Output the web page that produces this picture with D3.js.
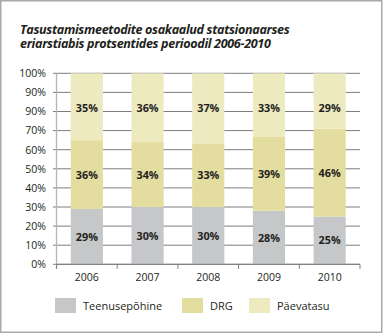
<!DOCTYPE html>
<html><head><meta charset="utf-8">
<script src="https://cdn.jsdelivr.net/npm/d3@7"></script>
<style>body{margin:0;background:#fff;}svg{display:block;}</style>
</head><body>
<svg id="c" width="384" height="335"></svg>
<script>
const years = ["2006","2007","2008","2009","2010"];
const teenusepohine = [29,30,30,28,25];
const drg = [36,34,33,39,46];
const paevatasu = [35,36,37,33,29];
const seriesNames = ["Teenusepõhine","DRG","Päevatasu"];
const colors = ["#c5c7c9","#e4dda0","#eeeac0"];
const tickValues = [0,10,20,30,40,50,60,70,80,90,100];
const tickLabels = ["0%","10%","20%","30%","40%","50%","60%","70%","90%","90%","100%"];
const titleLines = ["Tasustamismeetodite osakaalud statsionaarses","eriarstiabis protsentides perioodil 2006-2010"];

const svg = d3.select("#c");
const font = "'Open Sans', sans-serif";
svg.append("rect").attr("x",0.75).attr("y",0.75).attr("width",381).attr("height",331.5)
  .attr("fill","#fff").attr("stroke","#a9a9a9").attr("stroke-width",1.5);

const title = svg.append("text")
  .attr("font-family",font).attr("font-style","italic").attr("font-weight","bold")
  .attr("font-size",12.6).attr("fill","#231f20").attr("letter-spacing",-0.35);
title.selectAll("tspan").data(titleLines).join("tspan")
  .attr("x",20).attr("y",(d,i)=>33.5+i*14.5).text(d=>d);

const x0=56.5, x1=360, yTop=73.3, yBot=264.3;
const x = d3.scaleBand().domain(years).range([x0,x1]).paddingInner(0.47).paddingOuter(0.235);
const y = d3.scaleLinear().domain([0,100]).range([yBot,yTop]);

// grid
const grid = svg.append("g");
grid.selectAll("line").data(tickValues).join("line")
  .attr("x1",53).attr("x2",x1).attr("y1",d=>y(d)).attr("y2",d=>y(d))
  .attr("stroke","#7d7d7d").attr("stroke-width",1);
svg.append("line").attr("x1",x0).attr("x2",x0).attr("y1",yTop).attr("y2",yBot+4)
  .attr("stroke","#b5b5b5").attr("stroke-width",1.3);

// y labels
svg.append("g").selectAll("text").data(tickValues).join("text")
  .attr("x",46).attr("y",d=>y(d)+3.8).attr("text-anchor","end")
  .attr("font-family",font).attr("font-size",10.5).attr("fill","#231f20")
  .text((d,i)=>tickLabels[i]);

// stacked bars
const rows = years.map((yr,i)=>({year:yr, v:[teenusepohine[i],drg[i],paevatasu[i]]}));
const stack = d3.stack().keys([0,1,2]).value((d,k)=>d.v[k]);
const layers = stack(rows);
layers.forEach((layer,k)=>{
  const g = svg.append("g");
  g.selectAll("rect").data(layer).join("rect")
    .attr("x",d=>x(d.data.year)).attr("width",x.bandwidth())
    .attr("y",d=>y(d[1])).attr("height",d=>y(d[0])-y(d[1]))
    .attr("fill",colors[k]);
  g.selectAll("text").data(layer).join("text")
    .attr("x",d=>x(d.data.year)+x.bandwidth()/2)
    .attr("y",d=>k===2 ? y(82)+4 : (y(d[0])+y(d[1]))/2+4)
    .attr("text-anchor","middle").attr("font-family",font).attr("font-weight","bold")
    .attr("font-size",10.8).attr("fill","#231f20")
    .text(d=>d.data.v[k]+"%");
});

// x axis baseline ticks
svg.append("line").attr("x1",x0).attr("x2",x1).attr("y1",yBot).attr("y2",yBot).attr("stroke","#7d7d7d");
const bounds = years.map((yr)=>x(yr)-x.step()*x.paddingInner()/2);
bounds.push(x1);
svg.append("g").selectAll("line").data(bounds).join("line")
  .attr("x1",d=>d).attr("x2",d=>d).attr("y1",yBot).attr("y2",yBot+4.5)
  .attr("stroke","#7d7d7d");
svg.append("g").selectAll("text").data(years).join("text")
  .attr("x",d=>x(d)+x.bandwidth()/2).attr("y",281)
  .attr("text-anchor","middle").attr("font-family",font).attr("font-size",10.5).attr("fill","#231f20")
  .text(d=>d);

// legend
const legX = [55,182,249];
const lg = svg.append("g");
seriesNames.forEach((n,i)=>{
  lg.append("rect").attr("x",legX[i]).attr("y",298).attr("width",21).attr("height",15).attr("fill",colors[i]);
  lg.append("text").attr("x",legX[i]+28).attr("y",309.5).attr("font-family",font).attr("font-size",11)
    .attr("fill","#231f20").text(n);
});
</script>
</body></html>
